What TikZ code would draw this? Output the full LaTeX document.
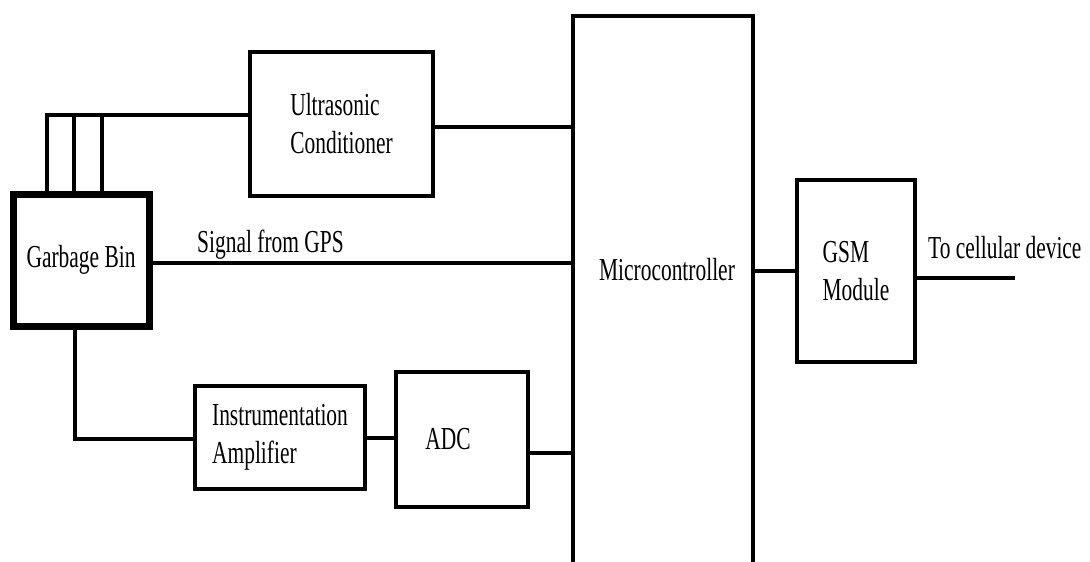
\documentclass[tikz,border=0pt]{standalone}
\usepackage{fontspec}
\setmainfont{Liberation Serif}[FakeStretch=0.67]
\usetikzlibrary{calc}
\begin{document}
\begin{tikzpicture}[x=1pt,y=-1pt,
  blk/.style={draw,line width=4pt,inner sep=0pt,align=left,font=\fontsize{32}{38}\selectfont},
  wire/.style={line width=4pt},
  lbl/.style={inner sep=0pt,font=\fontsize{32}{38}\selectfont}]
\useasboundingbox (0,0) rectangle (1090,562);
\clip (0,0) rectangle (1090,562);
\fill[white] (0,0) rectangle (1090,562);
\node[blk,line width=7pt,minimum width=136pt,minimum height=132pt] (gb) at (81,260) {Garbage Bin};
\node[blk,minimum width=183pt,minimum height=144pt] (us) at (341.5,124) {Ultrasonic\\Conditioner};
\node[blk,minimum width=170pt,minimum height=103pt] (ia) at (280,437.5) {Instrumentation\\Amplifier};
\node[blk,minimum width=132pt,minimum height=135pt] (adc) at (462,439.5) {ADC\hspace*{28pt}};
\node[blk,minimum width=180pt,minimum height=620pt,anchor=north] (mc) at (663,14) {};
\node[lbl] (mct) at (667,270) {Microcontroller};
\node[blk,minimum width=118pt,minimum height=182pt] (gsm) at (856,271) {GSM\\Module};
\coordinate (w1) at (47,115);
\coordinate (w2) at (74,115);
\coordinate (w3) at (102,115);
\draw[wire] (w1 |- gb.north) -- (w1) -- (w1 -| us.west);
\draw[wire] (w2 |- gb.north) -- (w2);
\draw[wire] (w3 |- gb.north) -- (w3);
\draw[wire] ([yshift=-3pt]us.east) -- ([yshift=-3pt]us.east -| mc.west);
\draw[wire] ([yshift=-2.5pt]gb.east) -- ([yshift=-2.5pt]gb.east -| mc.west);
\node[lbl,anchor=base west] (gps) at (197,252) {Signal from GPS};
\coordinate (b1) at (75,439);
\draw[wire] (b1 |- gb.south) -- (b1) -- (b1 -| ia.west);
\draw[wire] (ia.east) -- (ia.east -| adc.west);
\draw[wire] ([yshift=-13.5pt]adc.east) -- ([yshift=-13.5pt]adc.east -| mc.west);
\draw[wire] (gsm.west -| mc.east) -- (gsm.west);
\coordinate (out) at (1015,278);
\draw[wire] (out -| gsm.east) -- (out);
\node[lbl,anchor=base west] (cell) at (928,258) {To cellular device};
\end{tikzpicture}
\end{document}
